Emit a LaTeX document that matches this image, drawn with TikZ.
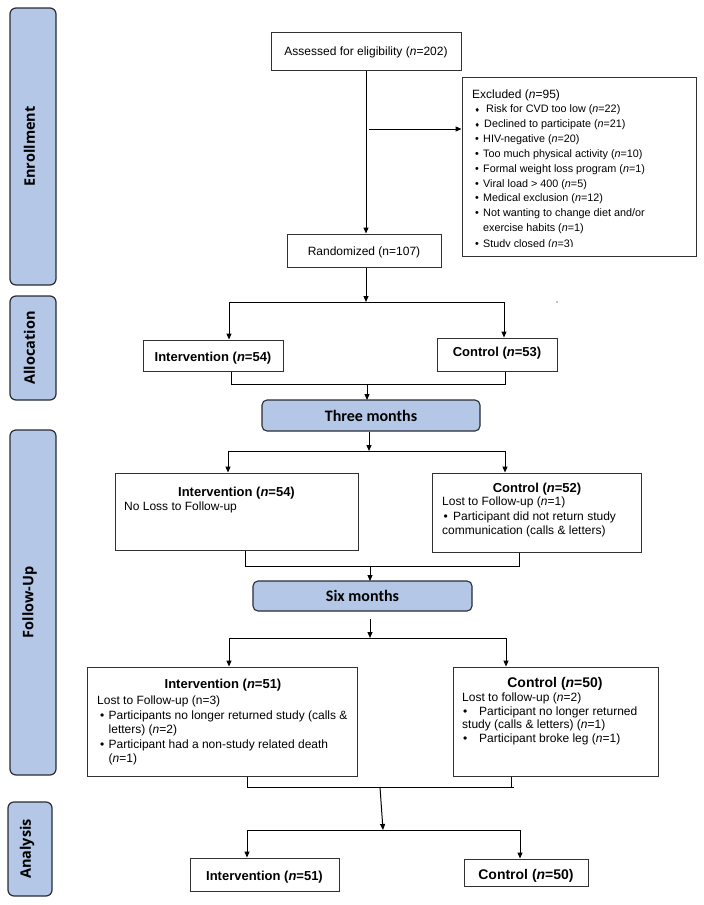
\documentclass[tikz,border=0pt]{standalone}
\usepackage{fontspec}
\setmainfont{Liberation Sans}
\newfontfamily\barfont{Open Sans}
\newfontfamily\calfont{Carlito}
\newfontfamily\djv{DejaVu Sans}
\usetikzlibrary{arrows.meta}
\definecolor{barblue}{RGB}{180,199,231}
\definecolor{bardraw}{RGB}{40,44,52}
\definecolor{boxdraw}{RGB}{50,50,50}
\newcommand{\dmd}{{\djv\fontsize{6}{6}\selectfont ♦}}
\begin{document}
\begin{tikzpicture}[x=1pt,y=-1pt,
  bar/.style={draw=bardraw, line width=1.2pt, fill=barblue, rounded corners=6pt, inner sep=0, minimum width=46pt},
  tbox/.style={draw=boxdraw, line width=1pt, fill=white, inner sep=0},
  stage/.style={draw=bardraw, line width=1.1pt, fill=barblue, rounded corners=5pt, inner sep=0, font=\calfont\bfseries\fontsize{16}{18}\selectfont},
  barlabel/.style={rotate=90, inner sep=0, font=\barfont\bfseries\fontsize{14.5}{16}\selectfont},
  conn/.style={line width=1pt, draw=black},
  arr/.style={conn, -{Triangle[length=6pt,width=5pt]}},
  body/.style={inner sep=0, anchor=base west, font=\fontsize{12}{14}\selectfont},
  small/.style={inner sep=0, anchor=base west, font=\fontsize{10.8}{13}\selectfont},
  ctext/.style={inner sep=0, anchor=base, font=\fontsize{12}{14}\selectfont},
  title/.style={inner sep=0, anchor=base, font=\bfseries\fontsize{13}{15}\selectfont},
  titleL/.style={inner sep=0, anchor=base, font=\bfseries\fontsize{14}{16}\selectfont}
]
\useasboundingbox (0,0) rectangle (704,905);

% side bars
\node[bar, minimum height=277pt] (bEnr) at (33,146.5) {};
\node[barlabel] (lEnr) at (29.5,146.5) {Enrollment};
\node[bar, minimum height=104pt] (bAll) at (33,348) {};
\node[barlabel] (lAll) at (29.5,348) {Allocation};
\node[bar, minimum height=345pt] (bFU) at (33,602.5) {};
\node[barlabel] (lFU) at (29.5,602.5) {Follow-Up};
\node[bar, minimum width=44pt, minimum height=94pt] (bAna) at (30,849) {};
\node[barlabel] (lAna) at (27,849) {Analysis};

% enrollment
\node[tbox, minimum width=190pt, minimum height=38pt] (assess) at (366,51) {};
\node[ctext] (tassess) at (366,55.3) {Assessed for eligibility (\textit{n}=202)};
\node[tbox, minimum width=234pt, minimum height=179pt] (excl) at (579,166.5) {};
\node[tbox, minimum width=154pt, minimum height=33pt] (rand) at (364,250.5) {};
\node[ctext] (trand) at (364,255) {Randomized (n=107)};

\node[body] (exh) at (472,98.3) {Excluded (\textit{n}=95)};
\begin{scope}
\clip (463,78) rectangle (695,246.8);
\node[small] (d0) at (474.5,112.5) {\dmd};
\node[small] (e0) at (486,112.5) {Risk for CVD too low (\textit{n}=22)};
\node[small] (d1) at (474.5,127.4) {\dmd};
\node[small] (e1) at (484,127.4) {Declined to participate (\textit{n}=21)};
\node[small] (b2) at (475,142.3) {•};
\node[small] (e2) at (483,142.3) {HIV-negative (\textit{n}=20)};
\node[small] (b3) at (475,157.2) {•};
\node[small] (e3) at (483,157.2) {Too much physical activity (\textit{n}=10)};
\node[small] (b4) at (475,172.1) {•};
\node[small] (e4) at (483,172.1) {Formal weight loss program (\textit{n}=1)};
\node[small] (b5) at (475,187) {•};
\node[small] (e5) at (483,187) {Viral load > 400 (\textit{n}=5)};
\node[small] (b6) at (475,201.9) {•};
\node[small] (e6) at (483,201.9) {Medical exclusion (\textit{n}=12)};
\node[small] (b7) at (475,216.8) {•};
\node[small] (e7) at (483,216.8) {Not wanting to change diet and/or};
\node[small] (e8) at (483,231.7) {exercise habits (\textit{n}=1)};
\node[small] (b9) at (475,247.3) {•};
\node[small] (e9) at (483,247.3) {Study closed (\textit{n}=3)};
\end{scope}

\draw[arr] (assess.south) -- (assess.south |- rand.north);
\coordinate (exA) at (369,129);
\draw[arr] (exA) -- (exA -| excl.west);

% allocation
\node[tbox, minimum width=140pt, minimum height=31pt] (aInt) at (213,355.5) {};
\node[title] (taInt) at (213,361.3) {Intervention (\textit{n}=54)};
\node[tbox, minimum width=120pt, minimum height=33pt] (aCon) at (497,354.5) {};
\node[title] (taCon) at (497,356.5) {Control (\textit{n}=53)};
\coordinate (br1) at (366,302);
\coordinate (br1L) at (229,302);
\coordinate (br1R) at (504,302);
\draw[arr] (rand.south -| br1) -- (br1);
\draw[conn] (br1L) -- (br1R);
\draw[arr] (br1L) -- (br1L |- aInt.north);
\draw[arr] (br1R) -- (br1R |- aCon.north);
\fill (557,302) circle (0.6pt);

\node[stage, minimum width=218pt, minimum height=31pt] (three) at (371,415.5) {Three months};
\coordinate (j1L) at (231,384);
\coordinate (j1R) at (505,384);
\draw[conn] (j1L |- aInt.south) -- (j1L) -- (j1R) -- (j1R |- aCon.south);
\draw[arr] (367,384) -- (367,400);

% follow-up 1
\node[tbox, minimum width=243pt, minimum height=77pt] (fInt) at (236.5,511.5) {};
\node[title] (tfInt) at (236.5,496) {Intervention (\textit{n}=54)};
\node[body] (tfInt2) at (124,510.5) {No Loss to Follow-up};
\node[tbox, minimum width=209pt, minimum height=79pt] (fCon) at (536.5,512.5) {};
\node[title] (tfCon) at (537,492) {Control (\textit{n}=52)};
\node[body] (tfCon1) at (442,505.5) {Lost to Follow-up (\textit{n}=1)};
\node[body] (tfConb) at (443.5,520) {•};
\node[body] (tfCon2) at (453,520) {Participant did not return study};
\node[body] (tfCon3) at (442,534.5) {communication (calls \& letters)};

\coordinate (br2) at (369,451);
\coordinate (br2L) at (228,451);
\coordinate (br2R) at (505,451);
\draw[arr] (three.south -| br2) -- (br2);
\draw[conn] (br2L) -- (br2R);
\draw[arr] (br2L) -- (br2L |- fInt.north);
\draw[arr] (br2R) -- (br2R |- fCon.north);

\node[stage, minimum width=219pt, minimum height=30pt] (six) at (362.5,596) {Six months};
\coordinate (j2L) at (245,566);
\coordinate (j2R) at (519,566);
\draw[conn] (j2L |- fInt.south) -- (j2L) -- (j2R) -- (j2R |- fCon.south);
\draw[arr] (370,566) -- (370,581);

% follow-up 2
\node[tbox, minimum width=270pt, minimum height=109pt] (gInt) at (222,721.5) {};
\node[title] (tgInt) at (223,688) {Intervention (\textit{n}=51)};
\node[body] (tgInt1) at (97,704.5) {Lost to Follow-up (n=3)};
\node[body] (tgIntb1) at (100,719) {•};
\node[body] (tgInt2) at (108.5,719) {Participants no longer returned study (calls \&};
\node[body] (tgInt3) at (108.5,733.3) {letters) (\textit{n}=2)};
\node[body] (tgIntb2) at (100,748.4) {•};
\node[body] (tgInt4) at (108.5,748.4) {Participant had a non-study related death};
\node[body] (tgInt5) at (108.5,762.7) {(\textit{n}=1)};

\node[tbox, minimum width=205pt, minimum height=109pt] (gCon) at (555.5,721.5) {};
\node[titleL] (tgCon) at (555,687.5) {Control (\textit{n}=50)};
\node[body] (tgCon1) at (462,701.3) {Lost to follow-up (\textit{n}=2)};
\node[body] (tgConb1) at (463,715) {•};
\node[body] (tgCon2) at (479,715) {Participant no longer returned};
\node[body] (tgCon3) at (462,728.7) {study (calls \& letters) (\textit{n}=1)};
\node[body] (tgConb2) at (463,742.4) {•};
\node[body] (tgCon4) at (479,742.4) {Participant broke leg (\textit{n}=1)};

\coordinate (s6) at (370,619);
\coordinate (br3) at (370,638);
\coordinate (br3L) at (229,638);
\coordinate (br3R) at (506,638);
\draw[arr] (s6) -- (br3);
\draw[conn] (br3L) -- (br3R);
\draw[arr] (br3L) -- (br3L |- gInt.north);
\draw[arr] (br3R) -- (br3R |- gCon.north);

% analysis
\node[tbox, minimum width=149pt, minimum height=33pt] (nInt) at (264.5,874.5) {};
\node[title] (tnInt) at (264.5,880.5) {Intervention (\textit{n}=51)};
\node[tbox, minimum width=124pt, minimum height=27pt] (nCon) at (526,872.5) {};
\node[titleL] (tnCon) at (526,879) {Control (\textit{n}=50)};

\coordinate (j3L) at (247,787);
\coordinate (j3R) at (511,787);
\draw[conn] (j3L |- gInt.south) -- (j3L) -- (514,787);
\draw[conn] (j3R |- gCon.south) -- (j3R);
\coordinate (br4) at (383,830);
\coordinate (br4L) at (247,830);
\coordinate (br4R) at (520,830);
\draw[arr] (380,787) -- (br4);
\draw[conn] (br4L) -- (br4R);
\draw[arr] (br4L) -- (br4L |- nInt.north);
\draw[arr] (br4R) -- (br4R |- nCon.north);
\end{tikzpicture}
\end{document}
